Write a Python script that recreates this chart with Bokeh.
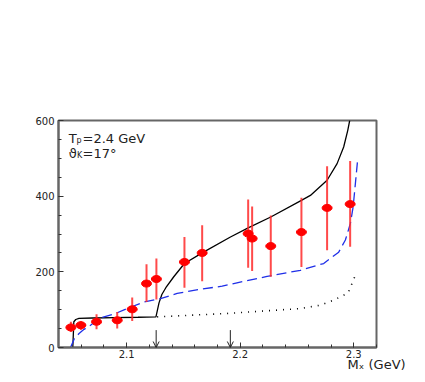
from bokeh.plotting import figure
from bokeh.models import FixedTicker, Label, Arrow, OpenHead, Range1d
from bokeh.embed import file_html
from bokeh.resources import INLINE

# ---- data ----
pt_x = [2.0509, 2.0597, 2.0735, 2.0917, 2.1049, 2.1175, 2.1262, 2.1509, 2.1665,
        2.2070, 2.2105, 2.2269, 2.2539, 2.2765, 2.2968]
pt_y = [53, 59, 68, 72, 101, 169, 181, 226, 250, 301, 288, 268, 305, 369, 379]
pt_lo = [41, 46, 48, 50, 70, 120, 127, 158, 175, 211, 202, 187, 213, 257, 266]
pt_hi = [68, 70, 88, 94, 132, 220, 235, 292, 323, 391, 373, 349, 396, 479, 493]

solid_x = [2.0526, 2.0535, 2.0552, 2.058, 2.07, 2.09, 2.11, 2.1258, 2.1272, 2.1285,
           2.131, 2.1345, 2.1415, 2.1509, 2.1665, 2.1914, 2.207, 2.2269, 2.2539,
           2.2618, 2.2765, 2.2853, 2.2911, 2.2947, 2.2964]
solid_y = [0, 68, 74, 77, 78, 79, 80, 81, 100, 118, 140, 158, 187, 222, 250, 292,
           316, 345, 389, 402, 442, 486, 530, 574, 600]

dash_x = [2.0506, 2.054, 2.0581, 2.0625, 2.0682, 2.0741, 2.077, 2.0902, 2.1005,
          2.1151, 2.1298, 2.1445, 2.165, 2.1841, 2.1943, 2.2237, 2.253, 2.2735,
          2.2867, 2.2926, 2.297, 2.2994, 2.3014, 2.3032]
dash_y = [0, 24, 37, 48, 59, 72, 78, 90, 103, 120, 129, 143, 154, 162, 169, 188,
          204, 222, 252, 284, 328, 371, 433, 490]

dot_x = [2.1269, 2.1885, 2.2237, 2.253, 2.2706, 2.2823, 2.2882, 2.295, 2.3014]
dot_y = [81, 90, 97, 103, 112, 125, 134, 144, 191]

arrow_x = [2.126, 2.1913]
arrow_top = 46

x_ticks = [2.1, 2.2, 2.3]
x_minor = [2.04, 2.06, 2.08, 2.10, 2.12, 2.14, 2.16, 2.18, 2.20, 2.22, 2.24, 2.26, 2.28, 2.30, 2.32]
y_ticks = [0, 200, 400, 600]
y_minor = [0, 50, 100, 150, 200, 250, 300, 350, 400, 450, 500, 550, 600]

FONT = "DejaVu Sans"

p = figure(width=417, height=382, output_backend="svg", toolbar_location=None,
           x_range=Range1d(2.04, 2.32), y_range=Range1d(0, 600),
           min_border_left=58, min_border_right=41, min_border_top=120,
           min_border_bottom=35)
p.grid.visible = False
p.background_fill_color = "white"
p.border_fill_color = "white"
p.outline_line_color = "#666666"
p.outline_line_width = 2

for ax in (p.xaxis[0], p.yaxis[0]):
    ax.axis_line_color = "#666666"
    ax.axis_line_width = 2
    ax.major_tick_in = 5
    ax.major_tick_out = 0
    ax.minor_tick_in = 3
    ax.minor_tick_out = 0
    ax.major_tick_line_color = "#333333"
    ax.minor_tick_line_color = "#333333"
    ax.major_label_text_font = FONT
    ax.major_label_text_font_size = "10px"
    ax.major_label_text_color = "#222222"

p.xaxis.ticker = FixedTicker(ticks=x_ticks, minor_ticks=x_minor)
p.yaxis.ticker = FixedTicker(ticks=y_ticks, minor_ticks=y_minor)
p.xaxis.major_label_standoff = 2
p.yaxis.major_label_standoff = 4

xax = p.xaxis[0]
xax.axis_label = "M\u2093 (GeV)"
xax.axis_label_text_font = FONT
xax.axis_label_text_font_size = "13px"
xax.axis_label_text_font_style = "normal"
xax.axis_label_text_color = "#222222"
xax.axis_label_standoff = -4
try:
    xax.axis_label_align = "end"
except Exception:
    pass

# curves
p.line(solid_x, solid_y, line_color="black", line_width=1.3)
p.line(dash_x, dash_y, line_color="#1f2fe8", line_width=1.3, line_dash="10 5")
p.line(dot_x, dot_y, line_color="black", line_width=1.6, line_dash="1 6")

# data points
p.segment(x0=pt_x, y0=pt_lo, x1=pt_x, y1=pt_hi, line_color="#ff2a2a", line_width=2, line_alpha=0.85)
p.ellipse(x=pt_x, y=pt_y, width=10, height=7, width_units="screen", height_units="screen",
          fill_color="red", line_color="red")

# arrows
for ax_ in arrow_x:
    p.add_layout(Arrow(x_start=ax_, y_start=arrow_top, x_end=ax_, y_end=0,
                       line_color="#222222", line_width=1,
                       end=OpenHead(size=6, line_color="#222222", line_width=1)))

def lab(x, y, t, size, align="left"):
    p.add_layout(Label(x=x, y=y, text=t, text_font=FONT, text_font_size=size,
                       text_baseline="alphabetic", text_align=align, text_color="#222222"))

lab(2.049, 553, "T", "13px")
lab(2.0558, 547, "p", "8px")
lab(2.0612, 553, "=2.4 GeV", "13px")
lab(2.049, 513, "\u03d1", "13px")
lab(2.0562, 507, "K", "8px")
lab(2.0612, 513, "=17\u00b0", "13px")

open("out.html", "w").write(file_html(p, INLINE))
